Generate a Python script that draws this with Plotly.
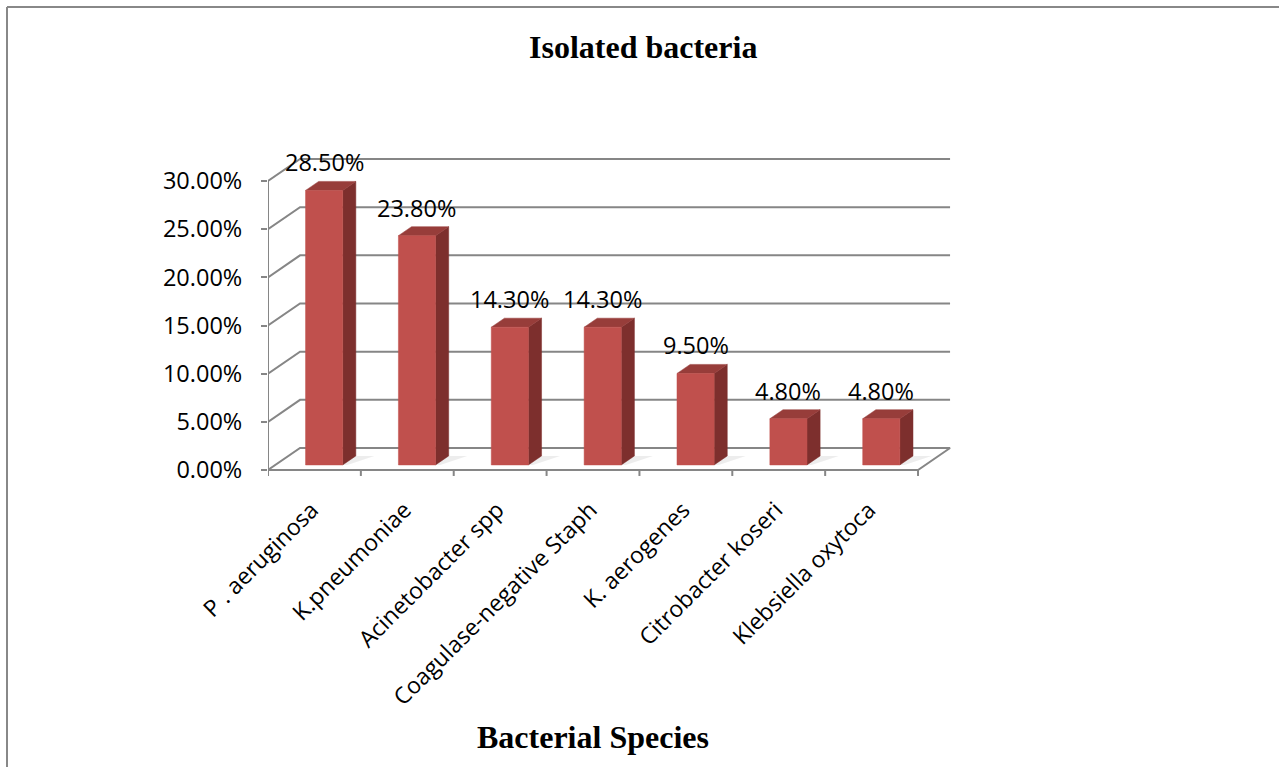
import plotly.graph_objects as go

# ---- data ----
categories = [
    "P . aeruginosa",
    "K.pneumoniae",
    "Acinetobacter spp",
    "Coagulase-negative Staph",
    "K. aerogenes",
    "Citrobacter koseri",
    "Klebsiella oxytoca",
]
percent_values = [28.5, 23.8, 14.3, 14.3, 9.5, 4.8, 4.8]
tick_values = [0, 5, 10, 15, 20, 25, 30]
tick_labels = ["0.00%", "5.00%", "10.00%", "15.00%", "20.00%", "25.00%", "30.00%"]

chart_title = "Isolated bacteria"
x_title = "Bacterial Species"

# ---- page / plot-area geometry (pixels) ----
W, H = 1279, 767
PL, PR, PT, PB = 268, 960, 140, 480
X_RANGE = [0.0, 7.452]
Y_RANGE = [-1.038, 34.26]

# 3-D depth of the floor / walls, in data units
DEPTH_X, DEPTH_Y = 0.345, 2.284
BAR_D0, BAR_D1 = 0.23, 0.64      # front and back of each bar along depth
BAR_LEFT, BAR_W = 0.325, 0.40    # bar position inside its category slot

GRID = "#868686"
FRONT = "#C0504D"
SIDE = "#7D2F2D"
TOP = "#973D3A"
FONT = "Open Sans"
SERIF = "Liberation Serif"

n = len(categories)


def px_to_paper(px, py):
    return (px - PL) / (PR - PL), (PB - py) / (PB - PT)


fig = go.Figure()

# back-wall gridlines, each with its diagonal on the left wall
gx, gy = [], []
for t in tick_values[1:]:
    gx += [0, DEPTH_X, n + DEPTH_X, None]
    gy += [t, t + DEPTH_Y, t + DEPTH_Y, None]
fig.add_trace(go.Scatter(x=gx, y=gy, mode="lines",
                         line=dict(color=GRID, width=2), hoverinfo="skip"))

# floor outline (front edge doubles as the category axis line)
fig.add_trace(go.Scatter(x=[0, DEPTH_X, n + DEPTH_X, n, 0],
                         y=[0, DEPTH_Y, DEPTH_Y, 0, 0], mode="lines",
                         line=dict(color=GRID, width=2), hoverinfo="skip"))

# value axis line
fig.add_trace(go.Scatter(x=[0, 0], y=[0, tick_values[-1]], mode="lines",
                         line=dict(color=GRID, width=2), hoverinfo="skip"))

# category boundary ticks
tx, ty = [], []
for k in range(n + 1):
    tx += [k, k, None]
    ty += [0, -0.62, None]
fig.add_trace(go.Scatter(x=tx, y=ty, mode="lines",
                         line=dict(color=GRID, width=2), hoverinfo="skip"))

# 3-D bars
fx, fy = BAR_D0 * DEPTH_X, BAR_D0 * DEPTH_Y
bx, by = (BAR_D1 - BAR_D0) * DEPTH_X, (BAR_D1 - BAR_D0) * DEPTH_Y
for i, v in enumerate(percent_values):
    x0 = i + BAR_LEFT + fx
    x1 = x0 + BAR_W
    y0 = fy
    y1 = v + fy
    # soft floor shadow
    fig.add_trace(go.Scatter(
        x=[x1, x1 + bx, x1 + bx + 0.2, x1 + 0.05, x1],
        y=[y0, y0 + by, y0 + by, y0, y0],
        fill="toself", fillcolor="rgba(0,0,0,0.07)", mode="lines",
        line=dict(width=0, color="rgba(0,0,0,0)"), hoverinfo="skip"))
    # right side face
    fig.add_trace(go.Scatter(
        x=[x1, x1 + bx, x1 + bx, x1, x1],
        y=[y0, y0 + by, y1 + by, y1, y0],
        fill="toself", fillcolor=SIDE, mode="lines",
        line=dict(width=0.5, color=SIDE), hoverinfo="skip"))
    # top face
    fig.add_trace(go.Scatter(
        x=[x0, x0 + bx, x1 + bx, x1, x0],
        y=[y1, y1 + by, y1 + by, y1, y1],
        fill="toself", fillcolor=TOP, mode="lines",
        line=dict(width=0.5, color=TOP), hoverinfo="skip"))
    # front face
    fig.add_trace(go.Scatter(
        x=[x0, x1, x1, x0, x0],
        y=[y0, y0, y1, y1, y0],
        fill="toself", fillcolor=FRONT, mode="lines",
        line=dict(width=0.5, color=FRONT), hoverinfo="skip"))

annotations = []
# value labels above the bars
for i, v in enumerate(percent_values):
    annotations.append(dict(
        x=i + BAR_LEFT + fx + BAR_W / 2, y=v + fy, xref="x", yref="y",
        text=f"{v:.2f}%", showarrow=False, yanchor="middle", yshift=28,
        font=dict(family=FONT, size=23.5, color="#000000")))

tx_, ty_ = px_to_paper(643, 47)
annotations.append(dict(x=tx_, y=ty_, xref="paper", yref="paper",
                        text=f"<b>{chart_title}</b>", showarrow=False,
                        xanchor="center", yanchor="middle",
                        font=dict(family=SERIF, size=32, color="#000000")))
ax_, ay_ = px_to_paper(593, 737)
annotations.append(dict(x=ax_, y=ay_, xref="paper", yref="paper",
                        text=f"<b>{x_title}</b>", showarrow=False,
                        xanchor="center", yanchor="middle",
                        font=dict(family=SERIF, size=32, color="#000000")))

# outer frame (top and left edges)
f0x, f0y = px_to_paper(7, 7)
f1x, _ = px_to_paper(1279, 7)
_, f2y = px_to_paper(7, 767)
shapes = [
    dict(type="line", xref="paper", yref="paper", x0=f0x, y0=f0y, x1=f1x, y1=f0y,
         line=dict(color="#888888", width=2)),
    dict(type="line", xref="paper", yref="paper", x0=f0x, y0=f0y, x1=f0x, y1=f2y,
         line=dict(color="#888888", width=2)),
]

fig.update_layout(
    template="none",
    width=W, height=H, autosize=False,
    margin=dict(l=PL, r=W - PR, t=PT, b=H - PB, pad=0),
    paper_bgcolor="white", plot_bgcolor="white",
    showlegend=False,
    annotations=annotations,
    shapes=shapes,
    xaxis=dict(range=X_RANGE, tickmode="array",
               tickvals=[i + 0.47 for i in range(n)], ticktext=categories,
               tickangle=-45, ticks="", showline=False, showgrid=False,
               zeroline=False, automargin=False, fixedrange=True,
               ticklabelstandoff=11,
               tickfont=dict(family=FONT, size=23, color="#000000")),
    yaxis=dict(range=Y_RANGE, tickmode="array", tickvals=tick_values,
               ticktext=tick_labels, ticks="outside", ticklen=6, tickwidth=2,
               tickcolor=GRID, showline=False, showgrid=False, zeroline=False,
               automargin=False, fixedrange=True, ticklabelstandoff=14,
               tickfont=dict(family=FONT, size=23.5, color="#000000")),
)

fig.write_html("out.html")
